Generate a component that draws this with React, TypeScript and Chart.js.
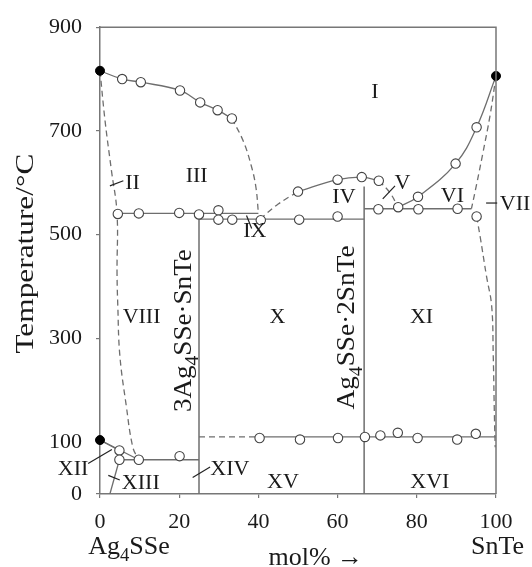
import React, { useEffect, useRef } from 'react';
import { Chart, registerables } from 'chart.js';

Chart.register(...registerables);

// ---------- axis ticks ----------
const xTicks = [0, 20, 40, 60, 80, 100];
const yTicks = [0, 100, 300, 500, 700, 900];

// ---------- experimental points ----------
const openCircles: [number, number][] = [
  [5.6, 800], [10.3, 794], [20.2, 778], [25.3, 755], [29.7, 740], [33.3, 724],
  [4.5, 540], [9.8, 541], [20, 542], [25, 539], [29.9, 547],
  [29.9, 529], [33.4, 529], [40.6, 528], [50.3, 529], [60, 535],
  [50, 583], [60, 606], [66.1, 611], [70.4, 604],
  [70.3, 549], [75.3, 553], [80.4, 549], [90.3, 550],
  [80.3, 573], [89.8, 637], [95.1, 707],
  [95.1, 535],
  [4.9, 84], [4.9, 66], [9.8, 66], [20.1, 73],
  [40.3, 108], [50.5, 105], [60.1, 108], [66.9, 110], [70.8, 113], [75.2, 118], [80.2, 108], [90.2, 105], [94.9, 116],
];
const filledDots: [number, number][] = [[0, 816], [100, 806], [0, 104]];

// ---------- curves (solid, smooth) ----------
const liquidusLeft: [number, number][] = [[0, 816], [5.6, 800], [10.3, 794], [20.2, 778], [25.3, 755], [29.7, 740], [33.3, 724]];
const liquidusMid: [number, number][] = [[50, 583], [60, 606], [66.1, 611], [70.4, 604]];
const liquidusRight: [number, number][] = [[75.3, 553], [80.3, 573], [89.8, 637], [95.1, 707], [100, 806]];

// ---------- curves (dashed, smooth) ----------
const liquidusLeftDash: [number, number][] = [[33.3, 724], [36.2, 680], [38.3, 630], [39.4, 590], [40, 541]];
const solidusLeftDash: [number, number][] = [[0, 816], [1.3, 718], [2.9, 623], [4.3, 541], [4.3, 426], [4.5, 362], [5, 268], [6.6, 172], [8.3, 90], [9.8, 66]];
const liquidusMidDashL: [number, number][] = [[40.4, 530], [45, 559], [50, 583]];
const liquidusMidDashR: [number, number][] = [[70.4, 604], [73.2, 581], [75.3, 553]];
const solidusRightDash: [number, number][] = [[100, 806], [98.5, 730], [96.6, 654], [95.1, 597], [93.8, 550]];
const solvusRightDash: [number, number][] = [[95.1, 535], [96, 496], [97.6, 420], [98.9, 363], [99.3, 268], [99.6, 150], [99.8, 90]];

// ---------- straight lines ----------
const peritecticLine: [number, number][] = [[4.5, 541], [40, 541]];
const line530: [number, number][] = [[25, 530], [66.7, 530]];
const compound1: [number, number][] = [[25, 0], [25, 541]];
const compound2: [number, number][] = [[66.7, 0], [66.7, 593]];
const eutecticLine: [number, number][] = [[66.7, 550], [93.8, 550]];
const line110: [number, number][] = [[40.3, 110], [100, 110]];
const line110Dash: [number, number][] = [[25, 110], [40.3, 110]];
const lowLineA: [number, number][] = [[0, 104], [4.9, 84]];
const lowLineB: [number, number][] = [[0, 104], [9.8, 66]];
const line66: [number, number][] = [[4.9, 66], [25, 66]];
const lowLineC: [number, number][] = [[4.9, 66], [2.5, 0]];

// ---------- region labels ----------
const regionNames = ['I', 'II', 'III', 'IV', 'V', 'VI', 'VII', 'VIII', 'IX', 'X', 'XI', 'XII', 'XIII', 'XIV', 'XV', 'XVI'];
const regionX = [69.4, 8.2, 24.4, 61.6, 76.4, 89, 104.8, 10.5, 39.1, 44.8, 81.2, -6.8, 10.3, 32.8, 46.2, 83.3];
const regionY = [778, 602, 616, 575, 602, 577, 561, 344, 510, 344, 344, 51, 23, 51, 25, 25];

const leaders: [number, number][][] = [
  [[2.5, 594], [5.9, 604]],
  [[71.4, 569], [74.5, 594]],
  [[97.5, 561], [100.3, 561]],
  [[37, 537], [38.3, 512]],
  [[-3, 59], [3, 86]],
  [[2.1, 36], [5, 27]],
  [[23.4, 32], [27.8, 52]],
];

const SERIF = '"Liberation Serif", "Times New Roman", Times, serif';
const LINE = '#6e6e6e';

type Part = { t: string; sub?: boolean };

function partsWidth(ctx: CanvasRenderingContext2D, parts: Part[], size: number) {
  let w = 0;
  for (const p of parts) {
    ctx.font = `${p.sub ? size * 0.72 : size}px ${SERIF}`;
    w += ctx.measureText(p.t).width;
  }
  return w;
}

function drawParts(ctx: CanvasRenderingContext2D, parts: Part[], size: number, x: number, baseline: number) {
  let cx = x;
  ctx.textBaseline = 'alphabetic';
  ctx.textAlign = 'left';
  for (const p of parts) {
    const s = p.sub ? size * 0.72 : size;
    ctx.font = `${s}px ${SERIF}`;
    ctx.fillText(p.t, cx, baseline + (p.sub ? size * 0.28 : 0));
    cx += ctx.measureText(p.t).width;
  }
}

function drawRotated(ctx: CanvasRenderingContext2D, parts: Part[], size: number, cx: number, cy: number, targetLen: number) {
  const w = partsWidth(ctx, parts, size);
  ctx.save();
  ctx.translate(cx, cy);
  ctx.rotate(-Math.PI / 2);
  ctx.scale(targetLen / w, 1);
  drawParts(ctx, parts, size, -w / 2, size * 0.33);
  ctx.restore();
}

const textPlugin = {
  id: 'phaseText',
  afterDraw(chart: any) {
    const { ctx, chartArea, scales } = chart;
    const xs = scales.x;
    const ys = scales.y;
    ctx.save();
    ctx.strokeStyle = '#777';
    ctx.lineWidth = 1.5;
    ctx.beginPath();
    ctx.moveTo(chartArea.left, chartArea.top);
    ctx.lineTo(chartArea.right, chartArea.top);
    ctx.lineTo(chartArea.right, chartArea.bottom);
    ctx.stroke();

    ctx.strokeStyle = '#222';
    ctx.lineWidth = 1.2;
    for (const seg of leaders) {
      ctx.beginPath();
      ctx.moveTo(xs.getPixelForValue(seg[0][0]), ys.getPixelForValue(seg[0][1]));
      ctx.lineTo(xs.getPixelForValue(seg[1][0]), ys.getPixelForValue(seg[1][1]));
      ctx.stroke();
    }

    ctx.fillStyle = '#1a1a1a';
    const size = 22;
    ctx.font = `${size}px ${SERIF}`;
    ctx.textAlign = 'center';
    ctx.textBaseline = 'alphabetic';
    regionNames.forEach((n, i) => {
      ctx.fillText(n, xs.getPixelForValue(regionX[i]), ys.getPixelForValue(regionY[i]) + size * 0.33);
    });

    drawRotated(ctx, [{ t: '3Ag' }, { t: '4', sub: true }, { t: 'SSe·SnTe' }], 26, xs.getPixelForValue(20.7), ys.getPixelForValue(315), 163);
    drawRotated(ctx, [{ t: 'Ag' }, { t: '4', sub: true }, { t: 'SSe·2SnTe' }], 26, xs.getPixelForValue(62.1), ys.getPixelForValue(321), 164);

    drawRotated(ctx, [{ t: 'Temperature/°C' }], 26, 24, (chartArea.top + chartArea.bottom) / 2 - 7, 200);

    const big = 26;
    const p1: Part[] = [{ t: 'Ag' }, { t: '4', sub: true }, { t: 'SSe' }];
    const w1 = partsWidth(ctx, p1, big);
    drawParts(ctx, p1, big, xs.getPixelForValue(0) + 29 - w1 / 2, chartArea.bottom + 60);
    const p2: Part[] = [{ t: 'SnTe' }];
    const w2 = partsWidth(ctx, p2, big);
    drawParts(ctx, p2, big, xs.getPixelForValue(100) + 1.5 - w2 / 2, chartArea.bottom + 60);
    const p3: Part[] = [{ t: 'mol% →' }];
    const w3 = partsWidth(ctx, p3, big);
    drawParts(ctx, p3, big, xs.getPixelForValue(54.5) - w3 / 2, chartArea.bottom + 71);
    ctx.restore();
  },
};

function lineDs(pts: [number, number][], dashed: boolean, tension: number, width = 1.3) {
  return {
    type: 'scatter' as const,
    data: pts.map(([x, y]) => ({ x, y })),
    showLine: true,
    borderColor: LINE,
    borderWidth: width,
    borderDash: dashed ? [6, 4] : [],
    tension,
    pointRadius: 0,
    fill: false,
    order: 2,
  };
}

export default function App() {
  const ref = useRef<HTMLCanvasElement>(null);
  useEffect(() => {
    let chart: Chart | null = null;
    let cancelled = false;
    const build = () => {
      if (cancelled || !ref.current) return;
      const datasets: any[] = [
        {
          data: filledDots.map(([x, y]) => ({ x, y })),
          pointRadius: 4.5,
          pointBackgroundColor: '#000',
          pointBorderColor: '#000',
          pointBorderWidth: 1,
          showLine: false,
          order: 0,
          clip: false,
        },
        {
          data: openCircles.map(([x, y]) => ({ x, y })),
          pointRadius: 4.7,
          pointBackgroundColor: '#fff',
          pointBorderColor: '#444',
          pointBorderWidth: 1.1,
          showLine: false,
          order: 1,
        },
        lineDs(liquidusLeft, false, 0.4),
        lineDs(liquidusMid, false, 0.4),
        lineDs(liquidusRight, false, 0.4),
        lineDs(liquidusLeftDash, true, 0.4),
        lineDs(solidusLeftDash, true, 0.4),
        lineDs(liquidusMidDashL, true, 0.4),
        lineDs(liquidusMidDashR, true, 0.4),
        lineDs(solidusRightDash, true, 0.4),
        lineDs(solvusRightDash, true, 0.4),
        lineDs(peritecticLine, false, 0),
        lineDs(line530, false, 0),
        lineDs(compound1, false, 0, 1.5),
        lineDs(compound2, false, 0, 1.5),
        lineDs(eutecticLine, false, 0),
        lineDs(line110, false, 0),
        lineDs(line110Dash, true, 0),
        lineDs(lowLineA, false, 0),
        lineDs(lowLineB, false, 0),
        lineDs(line66, false, 0),
        lineDs(lowLineC, false, 0),
      ];
      const tickFont = { family: SERIF, size: 22 };
      chart = new Chart(ref.current, {
        type: 'scatter',
        data: { datasets },
        options: {
          animation: false,
          responsive: false,
          devicePixelRatio: 1,
          layout: { padding: { left: 0, right: 36, top: 21, bottom: 0 } },
          plugins: { legend: { display: false }, tooltip: { enabled: false } },
          scales: {
            x: {
              type: 'linear',
              min: 0,
              max: 100,
              afterBuildTicks: (s: any) => { s.ticks = xTicks.map((v) => ({ value: v })); },
              afterFit: (s: any) => { s.height = 73; },
              grid: { display: true, drawOnChartArea: false, drawTicks: true, tickLength: 4, color: '#777', lineWidth: 1.2 },
              border: { display: true, color: '#777', width: 1.5 },
              ticks: { font: tickFont, color: '#1a1a1a', padding: 11, maxRotation: 0, autoSkip: false },
            },
            y: {
              type: 'linear',
              min: 0,
              max: 900,
              afterBuildTicks: (s: any) => { s.ticks = yTicks.map((v) => ({ value: v })); },
              afterFit: (s: any) => { s.width = 100; },
              grid: { display: true, drawOnChartArea: false, drawTicks: true, tickLength: 4, color: '#777', lineWidth: 1.2 },
              border: { display: true, color: '#777', width: 1.5 },
              ticks: { font: tickFont, color: '#1a1a1a', padding: 14, autoSkip: false },
            },
          },
        },
        plugins: [textPlugin],
      });
    };
    const fonts: any = (document as any).fonts;
    if (fonts && fonts.load) {
      Promise.all([
        fonts.load('22px "Liberation Serif"'),
        fonts.load('16px "Liberation Serif"'),
      ]).then(build, build);
    } else {
      build();
    }
    return () => {
      cancelled = true;
      if (chart) chart.destroy();
    };
  }, []);
  return (
    <div style={{ position: 'absolute', left: 0, top: 0, width: 532, height: 567, background: '#fff' }}>
      <span style={{ position: 'absolute', left: -1000, top: 0, fontFamily: SERIF, fontSize: 22 }}>Ag SnTe 0123456789 I V X</span>
      <canvas ref={ref} width={532} height={567} style={{ width: 532, height: 567, display: 'block' }} />
    </div>
  );
}
